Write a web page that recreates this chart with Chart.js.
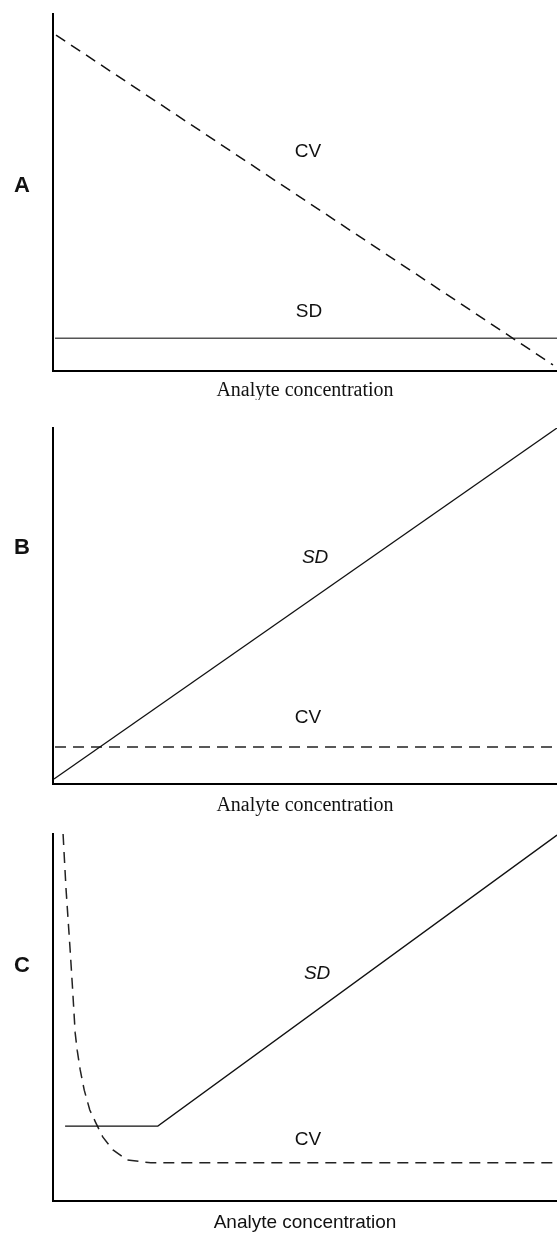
<!DOCTYPE html>
<html>
<head>
<meta charset="utf-8">
<script src="https://cdn.jsdelivr.net/npm/chart.js@4/dist/chart.umd.min.js"></script>
<style>
  body { margin: 0; background: #fff; }
  .panel { position: absolute; left: 0; }
</style>
</head>
<body>
<canvas id="chartA" class="panel" width="557" height="400" style="top:0px"></canvas>
<canvas id="chartB" class="panel" width="557" height="420" style="top:400px"></canvas>
<canvas id="chartC" class="panel" width="557" height="414" style="top:820px"></canvas>
<script>
// Panel A: SD constant, CV falls
const aCvX = [0.6, 99.2];
const aCvY = [94.1, 1.7];
const aSdX = [0.4, 100];
const aSdY = [9.2, 9.2];

// Panel B: SD rises, CV constant
const bSdX = [0.2, 100];
const bSdY = [1.4, 100];
const bCvX = [0.4, 100];
const bCvY = [10.4, 10.4];

// Panel C: SD flat then rising, CV falls steeply then flat
const cSdX = [2.4, 20.8, 100];
const cSdY = [20.4, 20.4, 99.7];
const cCvX = [2.0, 2.2, 2.6, 3.0, 3.4, 3.9, 4.4, 4.8, 5.4, 6.2, 7.3, 8.5, 9.9, 11.9, 14.7, 19.4, 100];
const cCvY = [100, 94.8, 84.7, 76.6, 68.4, 57.5, 45.8, 41.1, 35.7, 30.2, 24.8, 21.3, 17.4, 13.9, 11.2, 10.4, 10.4];

const toPoints = (xs, ys) => xs.map((x, i) => ({ x: x, y: ys[i] }));

const solid = (xs, ys, color, width) => ({
  data: toPoints(xs, ys),
  borderColor: color,
  borderWidth: width,
  pointRadius: 0,
  tension: 0,
  fill: false,
});

const dashed = (xs, ys, color, width) => ({
  ...solid(xs, ys, color, width),
  borderDash: [11, 7],
});

// text annotations: curve names at data coords, panel letter at pixel coords
const labelPlugin = {
  id: "labels",
  afterDatasetsDraw(chart, args, opts) {
    const ctx = chart.ctx;
    const { x, y } = chart.scales;
    ctx.save();
    ctx.fillStyle = "#111";
    ctx.textAlign = "center";
    ctx.textBaseline = "middle";
    opts.notes.forEach((n) => {
      ctx.font = (n.italic ? "italic " : "") + "19px 'Liberation Sans', Arial, sans-serif";
      ctx.fillText(n.text, x.getPixelForValue(n.x), y.getPixelForValue(n.y));
    });
    ctx.font = "bold 22px 'Liberation Sans', Arial, sans-serif";
    ctx.fillText(opts.letter, 22, opts.letterY);
    ctx.restore();
  },
};

const makeChart = (id, datasets, cfg) => {
  new Chart(document.getElementById(id), {
    type: "line",
    data: { datasets: datasets },
    options: {
      responsive: false,
      animation: false,
      layout: { padding: { top: cfg.top, right: 0, left: 0, bottom: 0 } },
      plugins: {
        legend: { display: false },
        tooltip: { enabled: false },
        labels: { notes: cfg.notes, letter: cfg.letter, letterY: cfg.letterY },
      },
      scales: {
        x: {
          type: "linear",
          min: 0,
          max: 100,
          grid: { display: false },
          ticks: { display: false },
          border: { display: true, color: "#000", width: 2 },
          title: {
            display: true,
            text: "Analyte concentration",
            color: "#111",
            font: { family: cfg.titleFont, size: cfg.titleSize, lineHeight: "18px" },
            padding: { top: 0, bottom: cfg.titlePad },
          },
          afterFit: (s) => { s.height = cfg.xHeight; },
        },
        y: {
          min: 0,
          max: 100,
          grid: { display: false },
          ticks: { display: false },
          border: { display: true, color: "#000", width: 2 },
          afterFit: (s) => { s.width = 53; },
        },
      },
    },
    plugins: [labelPlugin],
  });
};

makeChart("chartA", [
  dashed(aCvX, aCvY, "#111", 1.5),
  solid(aSdX, aSdY, "#555", 1.5),
], {
  top: 14, xHeight: 29, titlePad: 0,
  titleFont: "'Liberation Serif', 'Times New Roman', serif", titleSize: 20,
  letter: "A", letterY: 186,
  notes: [
    { text: "CV", x: 50.6, y: 61.3 },
    { text: "SD", x: 50.8, y: 16.5 },
  ],
});

makeChart("chartB", [
  solid(bSdX, bSdY, "#111", 1.3),
  dashed(bCvX, bCvY, "#222", 1.5),
], {
  top: 28, xHeight: 36, titlePad: 5,
  titleFont: "'Liberation Serif', 'Times New Roman', serif", titleSize: 20,
  letter: "B", letterY: 148,
  notes: [
    { text: "SD", x: 52, y: 63.5, italic: true },
    { text: "CV", x: 50.6, y: 18.5 },
  ],
});

makeChart("chartC", [
  solid(cSdX, cSdY, "#111", 1.3),
  dashed(cCvX, cCvY, "#222", 1.5),
], {
  top: 14, xHeight: 33, titlePad: 2,
  titleFont: "'Liberation Sans', Arial, sans-serif", titleSize: 19,
  letter: "C", letterY: 146,
  notes: [
    { text: "SD", x: 52.4, y: 61.9, italic: true },
    { text: "CV", x: 50.6, y: 16.6 },
  ],
});
</script>
</body>
</html>
